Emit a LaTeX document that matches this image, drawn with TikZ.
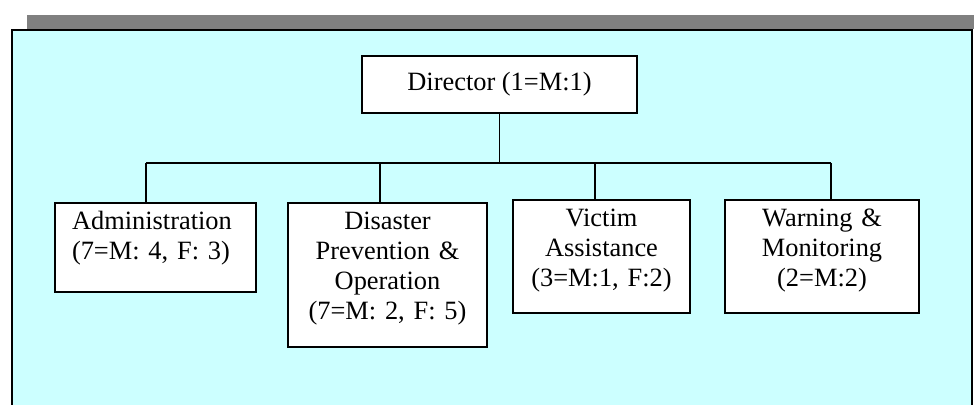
\documentclass[tikz,border=0pt]{standalone}
\usepackage{fontspec}
\setmainfont{Liberation Serif}
\usepackage{tikz}
\definecolor{panel}{HTML}{CCFFFF}
\definecolor{bar}{HTML}{808080}

\begin{document}
\begin{tikzpicture}[x=0.5pt, y=-0.5pt,
box/.style={rectangle, draw=black, fill=white, line width=0.9pt, inner xsep=0pt, inner ysep=4.5pt,
  text height=9pt, align=center, font=\fontsize{13.2}{15}\selectfont},
conn/.style={line width=0.9pt}
]
\useasboundingbox (0,0) rectangle (974,405);
%Background
\fill[bar] (27,15) rectangle (974,29.5);
\fill[panel] (12,30) rectangle (972,405);
\draw[line width=1pt] (12,405) -- (12,30) -- (972,30) -- (972,405);
%Nodes
\node[box, minimum width=137.5pt, minimum height=28.5pt, text depth=2.5pt] (dir) at (499.5,84.5) {Director (1=M:1)};
\node[box, minimum width=100.5pt, text width=83.5pt, align=left, text depth=26.5pt] (d1) at (155.5,247.5) {Administration\\(7=M: 4, F: 3)};
\node[box, minimum width=99.5pt, text width=80pt, text depth=54pt]   (d2) at (387.5,275)   {Disaster\\Prevention \&\\Operation\\(7=M: 2, F: 5)};
\node[box, minimum width=88.5pt, text width=75pt, text depth=38.5pt] (d3) at (601.5,256.5) {Victim\\Assistance\\(3=M:1, F:2)};
\node[box, minimum width=97pt, text width=80pt, text depth=38.5pt]   (d4) at (822,256.5)   {Warning \&\\Monitoring\\(2=M:2)};
\coordinate (b1) at (146,163);
\coordinate (b2) at (380,163);
\coordinate (b3) at (595,163);
\coordinate (b4) at (831,163);
%Lines
\draw[conn] (dir.south) -- (dir.south |- b1);
\draw[conn] (b1) -- (b4);
\draw[conn] (b1) -- (b1 |- d1.north);
\draw[conn] (b2) -- (b2 |- d2.north);
\draw[conn] (b3) -- (b3 |- d3.north);
\draw[conn] (b4) -- (b4 |- d4.north);
\end{tikzpicture}
\end{document}
